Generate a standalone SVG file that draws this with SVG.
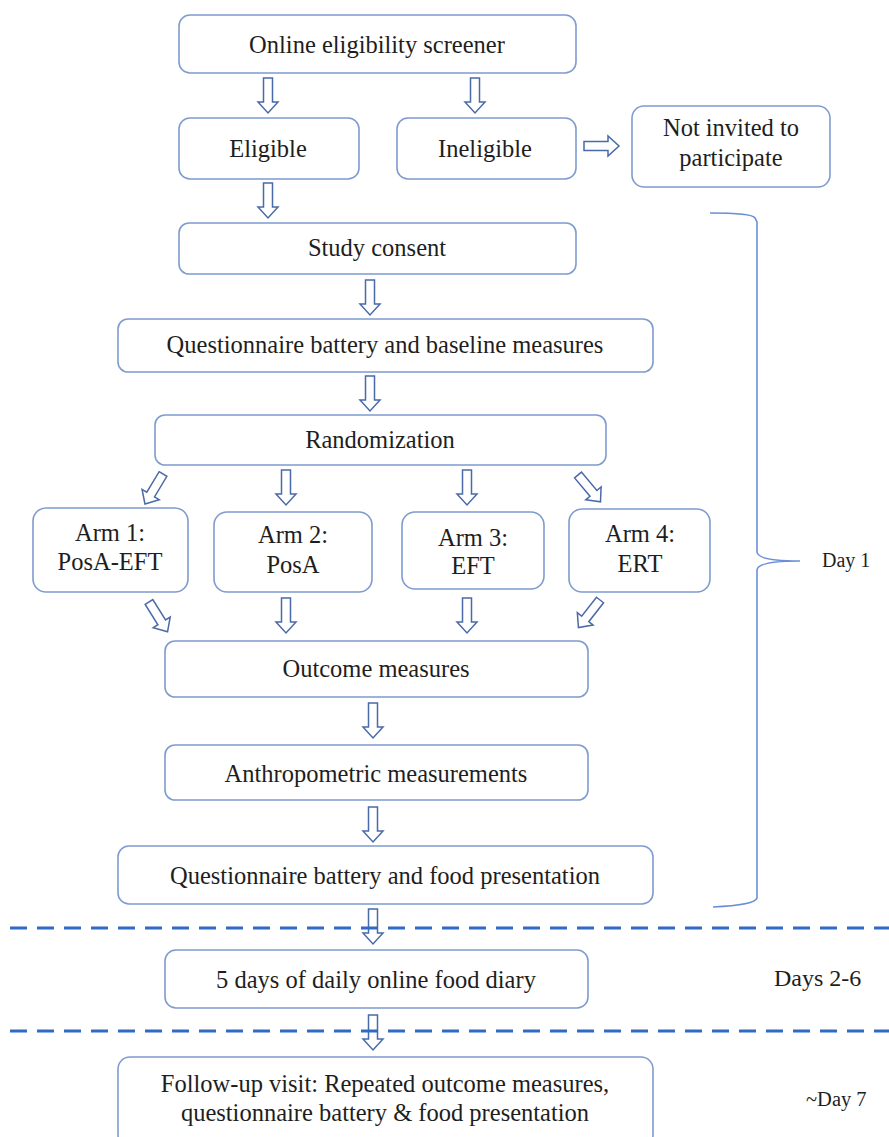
<svg xmlns="http://www.w3.org/2000/svg" width="889" height="1137" viewBox="0 0 889 1137">
<style>
.box{fill:#fff;stroke:#7f9bd0;stroke-width:1.6}
.lbl{font-family:'Liberation Serif','Times New Roman',serif;font-size:24.5px;fill:#1e1e1e;text-anchor:middle}
.side{font-family:'Liberation Serif','Times New Roman',serif;font-size:20px;fill:#1e1e1e}
.arr{fill:#fff;stroke:#4a6aa8;stroke-width:1.5;stroke-linejoin:miter}
.dash{stroke:#2f6bc4;stroke-width:3;stroke-dasharray:17 10;fill:none}
.brace{fill:none;stroke:#6b8fd6;stroke-width:1.6}
</style>
<defs>
<path id="da" class="arr" d="M-4.5,0 H4.5 V24 H10 L0,35 L-10,24 H-4.5 Z"/>
</defs>
<rect width="889" height="1137" fill="#fff"/>

<g id="connectors">
<use href="#da" transform="translate(268,78)"/>
<use href="#da" transform="translate(475,78)"/>
<use href="#da" transform="translate(268,183)"/>
<use href="#da" transform="translate(584,146) rotate(-90)"/>
<use href="#da" transform="translate(370,280)"/>
<use href="#da" transform="translate(370,376)"/>
<use href="#da" transform="translate(163,474) rotate(31)"/>
<use href="#da" transform="translate(286,470)"/>
<use href="#da" transform="translate(467,470)"/>
<use href="#da" transform="translate(578,475) rotate(-40)"/>
<use href="#da" transform="translate(149,602) rotate(-32)"/>
<use href="#da" transform="translate(286,598)"/>
<use href="#da" transform="translate(467,598)"/>
<use href="#da" transform="translate(600,600) rotate(38)"/>
<use href="#da" transform="translate(373,703)"/>
<use href="#da" transform="translate(373,807)"/>
<use href="#da" transform="translate(373,909)"/>
<use href="#da" transform="translate(373,1015)"/>
</g>

<g id="separators">
<line class="dash" x1="10" y1="928" x2="889" y2="928"/>
<line class="dash" x1="10" y1="1031" x2="889" y2="1031"/>
</g>

<g id="brace">
<path class="brace" d="M710,213 Q752,213 755,218 L757,222 V552 Q758,561 800,561 Q758,561 757,570 V898 Q755,905 713,907"/>
</g>

<g id="nodes">
<g id="n-screener"><rect class="box" x="179" y="15" width="397" height="58" rx="11"/><text class="lbl" x="377" y="53">Online eligibility screener</text></g>
<g id="n-eligible"><rect class="box" x="179" y="118" width="180" height="61" rx="11"/><text class="lbl" x="268" y="157">Eligible</text></g>
<g id="n-ineligible"><rect class="box" x="397" y="118" width="179" height="61" rx="11"/><text class="lbl" x="485" y="157">Ineligible</text></g>
<g id="n-notinvited"><rect class="box" x="632" y="106" width="198" height="81" rx="12"/><text class="lbl" x="731" y="136">Not invited to</text><text class="lbl" x="731" y="166">participate</text></g>
<g id="n-consent"><rect class="box" x="179" y="223" width="397" height="51" rx="10"/><text class="lbl" x="377" y="256">Study consent</text></g>
<g id="n-baseline"><rect class="box" x="118" y="319" width="535" height="53" rx="10"/><text class="lbl" x="385" y="353">Questionnaire battery and baseline measures</text></g>
<g id="n-random"><rect class="box" x="155" y="415" width="451" height="50" rx="10"/><text class="lbl" x="380" y="448">Randomization</text></g>
<g id="n-arm1"><rect class="box" x="33" y="508" width="155" height="84" rx="13"/><text class="lbl" x="110" y="541">Arm 1:</text><text class="lbl" x="110" y="570">PosA-EFT</text></g>
<g id="n-arm2"><rect class="box" x="214" y="512" width="158" height="80" rx="13"/><text class="lbl" x="293" y="543">Arm 2:</text><text class="lbl" x="293" y="573">PosA</text></g>
<g id="n-arm3"><rect class="box" x="402" y="512" width="142" height="77" rx="13"/><text class="lbl" x="473" y="546">Arm 3:</text><text class="lbl" x="473" y="574">EFT</text></g>
<g id="n-arm4"><rect class="box" x="569" y="509" width="141" height="83" rx="13"/><text class="lbl" x="640" y="542">Arm 4:</text><text class="lbl" x="640" y="572">ERT</text></g>
<g id="n-outcome"><rect class="box" x="165" y="641" width="423" height="56" rx="10"/><text class="lbl" x="376" y="677">Outcome measures</text></g>
<g id="n-anthro"><rect class="box" x="165" y="745" width="423" height="55" rx="10"/><text class="lbl" x="376" y="782">Anthropometric measurements</text></g>
<g id="n-food"><rect class="box" x="118" y="846" width="535" height="58" rx="11"/><text class="lbl" x="385" y="884">Questionnaire battery and food presentation</text></g>
<g id="n-diary"><rect class="box" x="165" y="950" width="423" height="58" rx="11"/><text class="lbl" x="376" y="988">5 days of daily online food diary</text></g>
<g id="n-followup"><rect class="box" x="118" y="1057" width="535" height="90" rx="12"/><text class="lbl" x="385" y="1092">Follow-up visit: Repeated outcome measures,</text><text class="lbl" x="385" y="1121">questionnaire battery &amp; food presentation</text></g>
</g>

<g id="labels">
<text class="side" x="822" y="567">Day 1</text>
<text class="side" x="774" y="986" style="font-size:24px">Days 2-6</text>
<text class="side" x="806" y="1106" style="font-size:20.5px">~Day 7</text>
</g>
</svg>
